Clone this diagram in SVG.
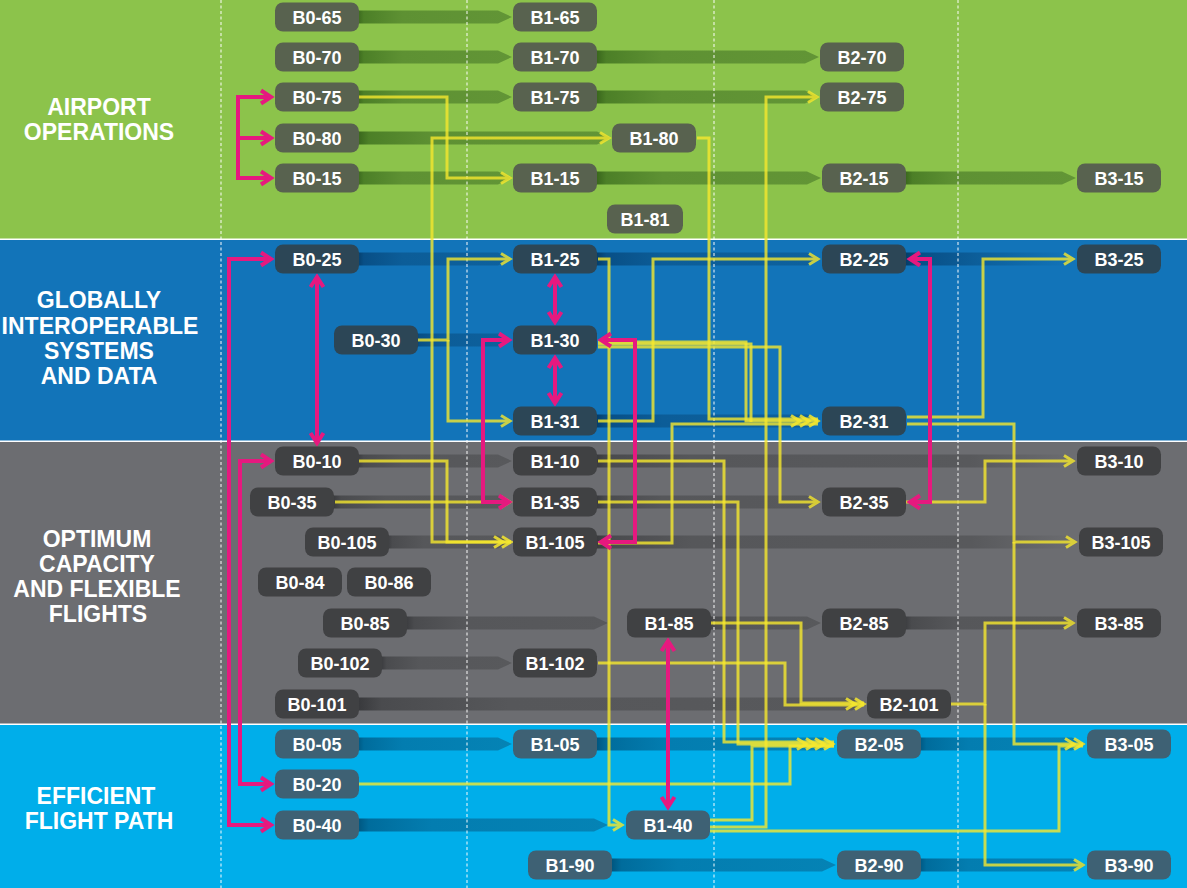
<svg xmlns="http://www.w3.org/2000/svg" width="1187" height="888" viewBox="0 0 1187 888">
<defs>
<style>
.lbl{font-family:"Liberation Sans",Arial,sans-serif;font-weight:bold;font-size:23px;fill:#fff;text-anchor:middle}
.node text{font-family:"Liberation Sans",Arial,sans-serif;font-weight:bold;font-size:18px;fill:#fff;text-anchor:middle}
.nG rect{fill:#58624f}
.nB rect{fill:#2c4656}
.nK rect{fill:#404143}
.nL rect{fill:#3e6174}
.y{fill:none;stroke:#f6e82e;stroke-width:3;opacity:0.8}
.ym{marker-end:url(#ya)}
.ch{fill:none;stroke:#f6e82e;stroke-width:3;opacity:0.85}
.p{fill:none;stroke:#e6197f;stroke-width:4;marker-start:url(#pa);marker-end:url(#pa)}
.p1{fill:none;stroke:#e6197f;stroke-width:4;marker-end:url(#pa)}
.dash{stroke:#fff;stroke-width:1.3;stroke-dasharray:3 2.5;opacity:0.75}
</style>
<linearGradient id="gG" x1="0" y1="0" x2="1" y2="0"><stop offset="0" stop-color="#36621a"/><stop offset="0.05" stop-color="#4c7f27"/><stop offset="0.3" stop-color="#5e9133"/><stop offset="1" stop-color="#629536"/></linearGradient>
<linearGradient id="gB" x1="0" y1="0" x2="1" y2="0"><stop offset="0" stop-color="#043a64"/><stop offset="0.05" stop-color="#084f86"/><stop offset="0.3" stop-color="#0c5d98"/><stop offset="1" stop-color="#0e619d"/></linearGradient>
<linearGradient id="gBf" x1="0" y1="0" x2="1" y2="0"><stop offset="0" stop-color="#043a64"/><stop offset="0.08" stop-color="#084f86"/><stop offset="0.4" stop-color="#0c5d98"/><stop offset="1" stop-color="#0e619d" stop-opacity="0"/></linearGradient>
<linearGradient id="gK" x1="0" y1="0" x2="1" y2="0"><stop offset="0" stop-color="#37383b"/><stop offset="0.05" stop-color="#4a4b4e"/><stop offset="0.3" stop-color="#56575a"/><stop offset="1" stop-color="#58595c"/></linearGradient>
<linearGradient id="gKf" x1="0" y1="0" x2="1" y2="0"><stop offset="0" stop-color="#37383b"/><stop offset="0.03" stop-color="#4a4b4e"/><stop offset="0.2" stop-color="#56575a"/><stop offset="0.78" stop-color="#58595c"/><stop offset="1" stop-color="#58595c" stop-opacity="0"/></linearGradient>
<linearGradient id="gL" x1="0" y1="0" x2="1" y2="0"><stop offset="0" stop-color="#00527a"/><stop offset="0.05" stop-color="#006c9c"/><stop offset="0.3" stop-color="#037db0"/><stop offset="1" stop-color="#0583b5"/></linearGradient>
<marker id="ya" markerUnits="userSpaceOnUse" orient="auto-start-reverse" markerWidth="24" markerHeight="24" viewBox="-12 -12 24 24" refX="0" refY="0" overflow="visible"><path d="M-9,-5.5 L0,0 L-9,5.5" fill="none" stroke="#f6e82e" stroke-width="3"/></marker>
<marker id="pa" markerUnits="userSpaceOnUse" orient="auto-start-reverse" markerWidth="24" markerHeight="24" viewBox="-12 -12 24 24" refX="0" refY="0" overflow="visible"><path d="M-10,-6.5 L0,0 L-10,6.5" fill="none" stroke="#e6197f" stroke-width="4"/></marker>
</defs>

<g id="bands">
<rect x="0" y="0" width="1187" height="888" fill="#ffffff"/>
<rect x="0" y="0" width="1187" height="238.5" fill="#8cc34b"/>
<rect x="0" y="240" width="1187" height="200.5" fill="#1274b9"/>
<rect x="0" y="442" width="1187" height="281.5" fill="#6c6d71"/>
<rect x="0" y="725" width="1187" height="163" fill="#00aeea"/>
<text class="lbl" x="99" y="115">AIRPORT</text>
<text class="lbl" x="99" y="140">OPERATIONS</text>
<text class="lbl" x="99" y="308">GLOBALLY</text>
<text class="lbl" x="100" y="334">INTEROPERABLE</text>
<text class="lbl" x="99" y="359">SYSTEMS</text>
<text class="lbl" x="99" y="384">AND DATA</text>
<text class="lbl" x="97" y="547">OPTIMUM</text>
<text class="lbl" x="97" y="572">CAPACITY</text>
<text class="lbl" x="97" y="597">AND FLEXIBLE</text>
<text class="lbl" x="98" y="622">FLIGHTS</text>
<text class="lbl" x="96" y="804">EFFICIENT</text>
<text class="lbl" x="99" y="829">FLIGHT PATH</text>
</g>

<g id="lanes">
<polygon fill="url(#gG)" points="356,10.5 498,10.5 512,17 498,23.5 356,23.5"/>
<polygon fill="url(#gG)" points="356,50.5 498,50.5 512,57 498,63.5 356,63.5"/>
<polygon fill="url(#gG)" points="595,50.5 805,50.5 819,57 805,63.5 595,63.5"/>
<polygon fill="url(#gG)" points="356,90.5 498,90.5 512,97 498,103.5 356,103.5"/>
<polygon fill="url(#gG)" points="595,90.5 805,90.5 819,97 805,103.5 595,103.5"/>
<polygon fill="url(#gG)" points="356,131.5 597,131.5 611,138 597,144.5 356,144.5"/>
<polygon fill="url(#gG)" points="356,171.5 498,171.5 512,178 498,184.5 356,184.5"/>
<polygon fill="url(#gG)" points="595,171.5 807,171.5 821,178 807,184.5 595,184.5"/>
<polygon fill="url(#gG)" points="904,171.5 1062,171.5 1076,178 1062,184.5 904,184.5"/>
<polygon fill="url(#gB)" points="356,252.5 498,252.5 512,259 498,265.5 356,265.5"/>
<polygon fill="url(#gB)" points="595,252.5 807,252.5 821,259 807,265.5 595,265.5"/>
<polygon fill="url(#gBf)" points="904,252.5 1062,252.5 1076,259 1062,265.5 904,265.5"/>
<polygon fill="url(#gB)" points="415,333.5 498,333.5 512,340 498,346.5 415,346.5"/>
<polygon fill="url(#gB)" points="595,414.5 807,414.5 821,421 807,427.5 595,427.5"/>
<polygon fill="url(#gK)" points="356,454.5 498,454.5 512,461 498,467.5 356,467.5"/>
<polygon fill="url(#gKf)" points="595,454.5 1062,454.5 1076,461 1062,467.5 595,467.5"/>
<polygon fill="url(#gK)" points="332,495.5 498,495.5 512,502 498,508.5 332,508.5"/>
<polygon fill="url(#gK)" points="595,495.5 807,495.5 821,502 807,508.5 595,508.5"/>
<polygon fill="url(#gK)" points="386,535.5 498,535.5 512,542 498,548.5 386,548.5"/>
<polygon fill="url(#gKf)" points="595,535.5 1064,535.5 1078,542 1064,548.5 595,548.5"/>
<polygon fill="url(#gK)" points="404,616.5 594,616.5 608,623 594,629.5 404,629.5"/>
<polygon fill="url(#gK)" points="708,616.5 807,616.5 821,623 807,629.5 708,629.5"/>
<polygon fill="url(#gK)" points="903,616.5 1062,616.5 1076,623 1062,629.5 903,629.5"/>
<polygon fill="url(#gK)" points="380,656.5 498,656.5 512,663 498,669.5 380,669.5"/>
<polygon fill="url(#gK)" points="356,697.5 852,697.5 866,704 852,710.5 356,710.5"/>
<polygon fill="url(#gL)" points="356,737.5 498,737.5 512,744 498,750.5 356,750.5"/>
<polygon fill="url(#gL)" points="595,737.5 822,737.5 836,744 822,750.5 595,750.5"/>
<polygon fill="url(#gL)" points="918,737.5 1072,737.5 1086,744 1072,750.5 918,750.5"/>
<polygon fill="url(#gL)" points="356,818.5 594,818.5 608,825 594,831.5 356,831.5"/>
<polygon fill="url(#gL)" points="610,858.5 822,858.5 836,865 822,871.5 610,871.5"/>
<polygon fill="url(#gL)" points="918,858.5 1072,858.5 1086,865 1072,871.5 918,871.5"/>
</g>

<g id="grid">
<line class="dash" x1="221" y1="0" x2="221" y2="888"/>
<line class="dash" x1="467" y1="0" x2="467" y2="888"/>
<line class="dash" x1="714" y1="0" x2="714" y2="888"/>
<line class="dash" x1="958" y1="0" x2="958" y2="888"/>
</g>

<g id="connectors">
<path class="y ym" d="M359,97 H447 V178 H510"/>
<path class="y" d="M609,138 H432 V542 H511" marker-start="url(#ya)"/>
<path class="y" d="M359,461 H447 V542 H511"/>
<path class="ch" d="M494,536.5 L503,542 L494,547.5 M502,536.5 L511,542 L502,547.5"/>
<path class="y ym" d="M335,502 H510"/>
<path class="y ym" d="M418,340 H448 V259 H510"/>
<path class="y ym" d="M448,340 V421 H510"/>
<path class="y ym" d="M598,259 H609 V825 H622"/>
<path class="y" d="M697,138 H709 V419 H818"/>
<path class="y ym" d="M598,421 H653 V259 H818"/>
<path class="y" d="M598,342 H746 V421 H818"/>
<path class="y" d="M598,344 H751 V422"/>
<path class="y ym" d="M598,347 H780 V502 H818"/>
<path class="y" d="M598,543 H672 V424 H818"/>
<path class="ch" d="M791,415.5 L800,421 L791,426.5 M800,415.5 L809,421 L800,426.5 M809,415.5 L818,421 L809,426.5"/>
<path class="y ym" d="M710,827 H766 V97 H817"/>
<path class="y" d="M598,461 H724 V742 H834"/>
<path class="y" d="M598,502 H738 V744 H834"/>
<path class="y" d="M710,820 H752 V746 H834"/>
<path class="y" d="M359,784 H790 V746 H834"/>
<path class="ch" d="M797,738.5 L806,744 L797,749.5 M806,738.5 L815,744 L806,749.5 M815,738.5 L824,744 L815,749.5 M824,738.5 L833,744 L824,749.5"/>
<path class="y" d="M711,623 H801 V703 H864"/>
<path class="y" d="M598,663 H785 V705 H864"/>
<path class="ch" d="M846,698.5 L855,704 L846,709.5 M855,698.5 L864,704 L855,709.5"/>
<path class="y ym" d="M951,704 H985 V623 H1073"/>
<path class="y ym" d="M985,704 V865 H1083"/>
<path class="y ym" d="M907,417 H983 V259 H1073"/>
<path class="y ym" d="M907,424 H1014 V542 H1075"/>
<path class="y" d="M1014,542 V744 H1083"/>
<path class="y" d="M710,831 H1059 V746 H1083"/>
<path class="ch" d="M1065,738.5 L1074,744 L1065,749.5 M1074,738.5 L1083,744 L1074,749.5"/>
<path class="y ym" d="M906,502 H985 V461 H1073"/>

<path class="p" d="M271,97 H238 V178 H271"/>
<path class="p1" d="M238,138 H271"/>
<path class="p" d="M271,259 H229 V825 H271"/>
<path class="p" d="M271,461 H240 V784 H271"/>
<path class="p" d="M317,277 V443"/>
<path class="p" d="M555,277 V322"/>
<path class="p" d="M555,358 V403"/>
<path class="p" d="M509,340 H483 V502 H509"/>
<path class="p" d="M601,340 H635 V542 H601"/>
<path class="p" d="M910,259 H930 V502 H910"/>
<path class="p" d="M668,641 V807"/>
</g>

<g id="nodes">
<g id="n-B0-65" class="node nG"><rect x="275" y="2.5" width="84" height="29" rx="8"/><text x="317" y="23.5">B0-65</text></g>
<g id="n-B1-65" class="node nG"><rect x="513" y="2.5" width="84" height="29" rx="8"/><text x="555" y="23.5">B1-65</text></g>
<g id="n-B0-70" class="node nG"><rect x="275" y="42.5" width="84" height="29" rx="8"/><text x="317" y="63.5">B0-70</text></g>
<g id="n-B1-70" class="node nG"><rect x="513" y="42.5" width="84" height="29" rx="8"/><text x="555" y="63.5">B1-70</text></g>
<g id="n-B2-70" class="node nG"><rect x="820" y="42.5" width="84" height="29" rx="8"/><text x="862" y="63.5">B2-70</text></g>
<g id="n-B0-75" class="node nG"><rect x="275" y="82.5" width="84" height="29" rx="8"/><text x="317" y="103.5">B0-75</text></g>
<g id="n-B1-75" class="node nG"><rect x="513" y="82.5" width="84" height="29" rx="8"/><text x="555" y="103.5">B1-75</text></g>
<g id="n-B2-75" class="node nG"><rect x="820" y="82.5" width="84" height="29" rx="8"/><text x="862" y="103.5">B2-75</text></g>
<g id="n-B0-80" class="node nG"><rect x="275" y="123.5" width="84" height="29" rx="8"/><text x="317" y="144.5">B0-80</text></g>
<g id="n-B1-80" class="node nG"><rect x="612" y="123.5" width="84" height="29" rx="8"/><text x="654" y="144.5">B1-80</text></g>
<g id="n-B0-15" class="node nG"><rect x="275" y="163.5" width="84" height="29" rx="8"/><text x="317" y="184.5">B0-15</text></g>
<g id="n-B1-15" class="node nG"><rect x="513" y="163.5" width="84" height="29" rx="8"/><text x="555" y="184.5">B1-15</text></g>
<g id="n-B2-15" class="node nG"><rect x="822" y="163.5" width="84" height="29" rx="8"/><text x="864" y="184.5">B2-15</text></g>
<g id="n-B3-15" class="node nG"><rect x="1077" y="163.5" width="84" height="29" rx="8"/><text x="1119" y="184.5">B3-15</text></g>
<g id="n-B1-81" class="node nG"><rect x="607" y="204.5" width="76" height="29" rx="8"/><text x="645" y="225.5">B1-81</text></g>

<g id="n-B0-25" class="node nB"><rect x="275" y="244.5" width="84" height="29" rx="8"/><text x="317" y="265.5">B0-25</text></g>
<g id="n-B1-25" class="node nB"><rect x="513" y="244.5" width="84" height="29" rx="8"/><text x="555" y="265.5">B1-25</text></g>
<g id="n-B2-25" class="node nB"><rect x="822" y="244.5" width="84" height="29" rx="8"/><text x="864" y="265.5">B2-25</text></g>
<g id="n-B3-25" class="node nB"><rect x="1077" y="244.5" width="84" height="29" rx="8"/><text x="1119" y="265.5">B3-25</text></g>
<g id="n-B0-30" class="node nB"><rect x="334" y="325.5" width="84" height="29" rx="8"/><text x="376" y="346.5">B0-30</text></g>
<g id="n-B1-30" class="node nB"><rect x="513" y="325.5" width="84" height="29" rx="8"/><text x="555" y="346.5">B1-30</text></g>
<g id="n-B1-31" class="node nB"><rect x="513" y="406.5" width="84" height="29" rx="8"/><text x="555" y="427.5">B1-31</text></g>
<g id="n-B2-31" class="node nB"><rect x="822" y="406.5" width="84" height="29" rx="8"/><text x="864" y="427.5">B2-31</text></g>

<g id="n-B0-10" class="node nK"><rect x="275" y="446.5" width="84" height="29" rx="8"/><text x="317" y="467.5">B0-10</text></g>
<g id="n-B1-10" class="node nK"><rect x="513" y="446.5" width="84" height="29" rx="8"/><text x="555" y="467.5">B1-10</text></g>
<g id="n-B3-10" class="node nK"><rect x="1077" y="446.5" width="84" height="29" rx="8"/><text x="1119" y="467.5">B3-10</text></g>
<g id="n-B0-35" class="node nK"><rect x="250" y="487.5" width="84" height="29" rx="8"/><text x="292" y="508.5">B0-35</text></g>
<g id="n-B1-35" class="node nK"><rect x="513" y="487.5" width="84" height="29" rx="8"/><text x="555" y="508.5">B1-35</text></g>
<g id="n-B2-35" class="node nK"><rect x="822" y="487.5" width="84" height="29" rx="8"/><text x="864" y="508.5">B2-35</text></g>
<g id="n-B0-105" class="node nK"><rect x="305" y="527.5" width="84" height="29" rx="8"/><text x="347" y="548.5">B0-105</text></g>
<g id="n-B1-105" class="node nK"><rect x="513" y="527.5" width="84" height="29" rx="8"/><text x="555" y="548.5">B1-105</text></g>
<g id="n-B3-105" class="node nK"><rect x="1079" y="527.5" width="84" height="29" rx="8"/><text x="1121" y="548.5">B3-105</text></g>
<g id="n-B0-84" class="node nK"><rect x="258" y="567.5" width="84" height="29" rx="8"/><text x="300" y="588.5">B0-84</text></g>
<g id="n-B0-86" class="node nK"><rect x="347" y="567.5" width="84" height="29" rx="8"/><text x="389" y="588.5">B0-86</text></g>
<g id="n-B0-85" class="node nK"><rect x="323" y="608.5" width="84" height="29" rx="8"/><text x="365" y="629.5">B0-85</text></g>
<g id="n-B1-85" class="node nK"><rect x="627" y="608.5" width="84" height="29" rx="8"/><text x="669" y="629.5">B1-85</text></g>
<g id="n-B2-85" class="node nK"><rect x="822" y="608.5" width="84" height="29" rx="8"/><text x="864" y="629.5">B2-85</text></g>
<g id="n-B3-85" class="node nK"><rect x="1077" y="608.5" width="84" height="29" rx="8"/><text x="1119" y="629.5">B3-85</text></g>
<g id="n-B0-102" class="node nK"><rect x="298" y="648.5" width="84" height="29" rx="8"/><text x="340" y="669.5">B0-102</text></g>
<g id="n-B1-102" class="node nK"><rect x="513" y="648.5" width="84" height="29" rx="8"/><text x="555" y="669.5">B1-102</text></g>
<g id="n-B0-101" class="node nK"><rect x="275" y="689.5" width="84" height="29" rx="8"/><text x="317" y="710.5">B0-101</text></g>
<g id="n-B2-101" class="node nK"><rect x="867" y="689.5" width="84" height="29" rx="8"/><text x="909" y="710.5">B2-101</text></g>

<g id="n-B0-05" class="node nL"><rect x="275" y="729.5" width="84" height="29" rx="8"/><text x="317" y="750.5">B0-05</text></g>
<g id="n-B1-05" class="node nL"><rect x="513" y="729.5" width="84" height="29" rx="8"/><text x="555" y="750.5">B1-05</text></g>
<g id="n-B2-05" class="node nL"><rect x="837" y="729.5" width="84" height="29" rx="8"/><text x="879" y="750.5">B2-05</text></g>
<g id="n-B3-05" class="node nL"><rect x="1087" y="729.5" width="84" height="29" rx="8"/><text x="1129" y="750.5">B3-05</text></g>
<g id="n-B0-20" class="node nL"><rect x="275" y="769.5" width="84" height="29" rx="8"/><text x="317" y="790.5">B0-20</text></g>
<g id="n-B0-40" class="node nL"><rect x="275" y="810.5" width="84" height="29" rx="8"/><text x="317" y="831.5">B0-40</text></g>
<g id="n-B1-40" class="node nL"><rect x="626" y="810.5" width="84" height="29" rx="8"/><text x="668" y="831.5">B1-40</text></g>
<g id="n-B1-90" class="node nL"><rect x="528" y="850.5" width="84" height="29" rx="8"/><text x="570" y="871.5">B1-90</text></g>
<g id="n-B2-90" class="node nL"><rect x="837" y="850.5" width="84" height="29" rx="8"/><text x="879" y="871.5">B2-90</text></g>
<g id="n-B3-90" class="node nL"><rect x="1087" y="850.5" width="84" height="29" rx="8"/><text x="1129" y="871.5">B3-90</text></g>
</g>
</svg>
